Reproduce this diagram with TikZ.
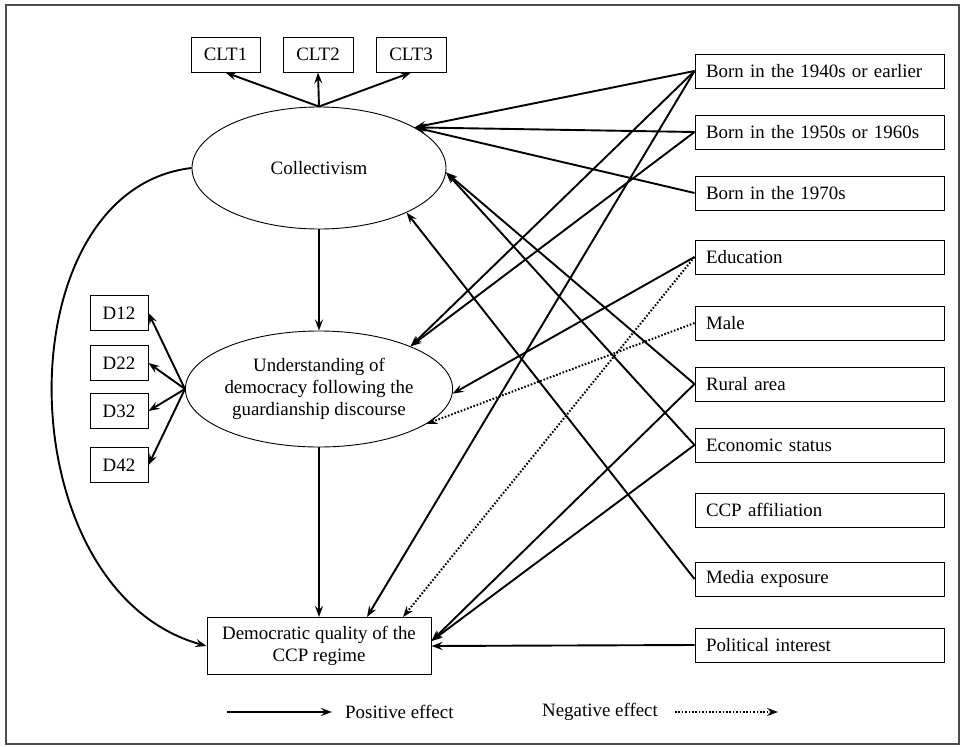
\documentclass[tikz,border=0pt]{standalone}
\usepackage{fontspec}
\setmainfont{Liberation Serif}
\usetikzlibrary{arrows.meta,shapes.geometric,calc}
\begin{document}
\begin{tikzpicture}[x=1pt,y=-1pt,
  txt/.style={font=\fontsize{18.9}{22}\selectfont},
  lat/.style={draw, ellipse, line width=0.9pt, minimum width=254pt, inner sep=0pt, align=center, txt},
  obs/.style={draw, line width=1pt, inner sep=0pt, minimum height=34pt, txt},
  rbox/.style={obs, minimum width=249pt, text width=227pt, align=left},
  eff/.style={line width=1.9pt, -{Stealth[length=11pt,width=8pt,inset=4pt]}},
  neg/.style={eff, line width=2pt, dash pattern=on 1.6pt off 1.8pt},
]
\useasboundingbox (0,0) rectangle (962,747);
\draw[line width=2pt, black!70] (6,5) rectangle (959,744);

% latent variables
\node[lat, minimum height=122pt] (col) at (319,168) {Collectivism};
\node[lat, minimum height=116pt] (und) at (319,389) {Understanding of\\democracy following the\\guardianship discourse};
\node[obs, minimum width=224pt, minimum height=57pt, align=center] (dem) at (319,646) {Democratic quality of the\\CCP regime};

% indicators
\node[obs, minimum width=69pt, minimum height=35pt] (clt1) at (225.5,54.5) {CLT1};
\node[obs, minimum width=70pt, minimum height=35pt] (clt2) at (318,54.5) {CLT2};
\node[obs, minimum width=70pt, minimum height=35pt] (clt3) at (411,54.5) {CLT3};
\node[obs, minimum width=58pt, minimum height=35pt] (d12) at (119,313) {D12};
\node[obs, minimum width=58pt, minimum height=35pt] (d22) at (119,363) {D22};
\node[obs, minimum width=58pt, minimum height=35pt] (d32) at (119,411) {D32};
\node[obs, minimum width=58pt, minimum height=35pt] (d42) at (119,465) {D42};

% predictors
\node[rbox] (b40) at (819.5,71) {Born in the 1940s or earlier};
\node[rbox] (b50) at (819.5,132) {Born in the 1950s or 1960s};
\node[rbox] (b70) at (819.5,193) {Born in the 1970s};
\node[rbox] (edu) at (819.5,257) {Education};
\node[rbox] (male) at (819.5,323) {Male};
\node[rbox] (rur) at (819.5,384) {Rural area};
\node[rbox] (eco) at (819.5,445) {Economic status};
\node[rbox] (ccp) at (819.5,510) {CCP affiliation};
\node[rbox] (med) at (819.5,579) {Media exposure};
\node[rbox] (pol) at (819.5,645) {Political interest};

% measurement arrows
\draw[eff] (col.north) -- (clt1.south);
\draw[eff] (col.north) -- (clt2.south);
\draw[eff] (col.north) -- (clt3.south);
\draw[eff] (und.west) -- (d12.east);
\draw[eff] (und.west) -- (d22.east);
\draw[eff] (und.west) -- (d32.east);
\draw[eff] (und.west) -- (d42.east);

% structural arrows
\draw[eff] (col.south) -- (und.north);
\draw[eff] (und.south) -- (dem.north);
\draw[eff] (col.west) .. controls (2,190) and (5,590) .. (dem.west);

% predictors -> collectivism
\draw[eff] (b40.west) -- (col.23.6);
\draw[eff] (b50.west) -- (col.23.6);
\draw[eff] (b70.west) -- (col.23.6);
\draw[eff] (rur.west) -- (col.-2);
\draw[eff] (eco.west) -- (col.-2);
\draw[eff] (med.west) -- (col.-27);

% predictors -> understanding
\draw[eff] (b40.west) -- (und.25);
\draw[eff] (b50.west) -- (und.25);
\draw[eff] (edu.west) -- (und.-2.3);
\draw[neg] (male.west) -- (und.-18.8);

% predictors -> democratic quality
\draw[eff] (b40.west) -- ([xshift=48pt]dem.north);
\draw[neg] (edu.west) -- ([xshift=84pt]dem.north);
\draw[eff] (rur.west) -- ([yshift=5pt]dem.east);
\draw[eff] (eco.west) -- ([yshift=5pt]dem.east);
\draw[eff] (pol.west) -- (dem.east);

% legend
\coordinate (pa) at (227,712);
\coordinate (pb) at (332,712);
\draw[eff] (pa) -- (pb);
\node[txt, anchor=west, inner sep=0pt] (post) at (345,712) {Positive effect};
\node[txt, anchor=west, inner sep=0pt] (negt) at (542,712) {Negative effect};
\coordinate (na) at (675,712);
\coordinate (nb) at (778,712);
\draw[neg] (na) -- (nb);
\end{tikzpicture}
\end{document}
